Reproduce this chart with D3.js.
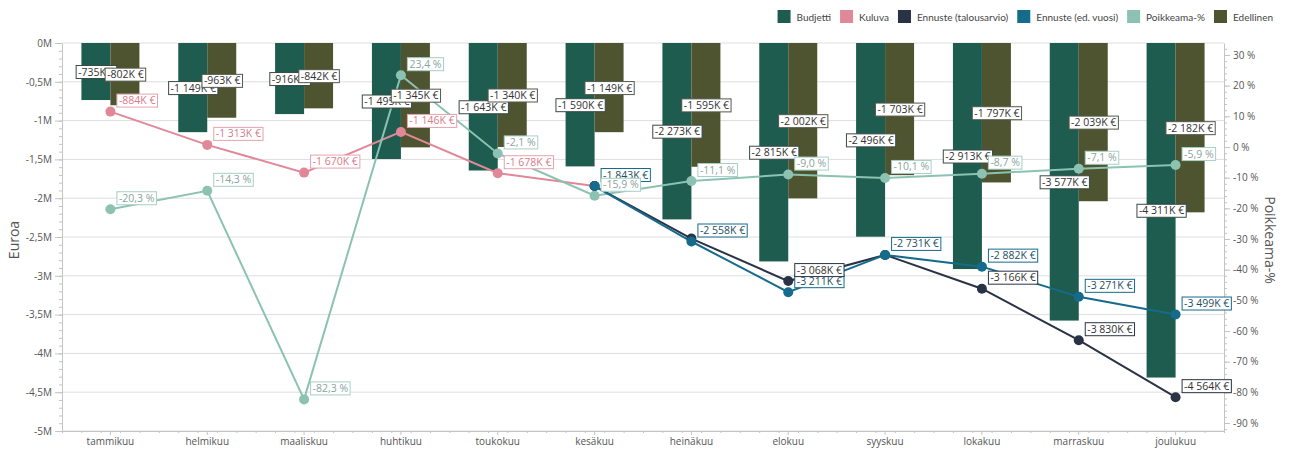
<!DOCTYPE html>
<html>
<head>
<meta charset="utf-8">
<script src="https://cdn.jsdelivr.net/npm/d3@7"></script>
<style>
    body { margin: 0; background: #fff; }
    svg { font-family: "Open Sans", sans-serif; }
</style>
</head>
<body>
<div id="chart"></div>
<script>
// months and series, values in thousands of euros
const months = ["tammikuu", "helmikuu", "maaliskuu", "huhtikuu", "toukokuu", "kesäkuu",
    "heinäkuu", "elokuu", "syyskuu", "lokakuu", "marraskuu", "joulukuu"];
const budjetti = [-735, -1149, -916, -1495, -1643, -1590, -2273, -2815, -2496, -2913, -3577, -4311];
const edellinen = [-802, -963, -842, -1345, -1340, -1149, -1595, -2002, -1703, -1797, -2039, -2182];
const kuluva = [-884, -1313, -1670, -1146, -1678, -1843, null, null, null, null, null, null];
const ennusteTa = [null, null, null, null, null, -1843, -2520, -3068, -2731, -3166, -3830, -4564];
const ennusteEd = [null, null, null, null, null, -1843, -2558, -3211, -2731, -2882, -3271, -3499];
const poikkeama = [-20.3, -14.3, -82.3, 23.4, -2.1, -15.9, -11.1, -9.0, -10.1, -8.7, -7.1, -5.9];
const leftTicks = [0, -0.5, -1, -1.5, -2, -2.5, -3, -3.5, -4, -4.5, -5];
const rightTicks = [30, 20, 10, 0, -10, -20, -30, -40, -50, -60, -70, -80, -90];

const colors = {
    budjetti: "#1d5c4f",
    kuluva: "#e08898",
    ennusteTa: "#2a3346",
    ennusteEd: "#156b8b",
    poikkeama: "#8cc2b2",
    edellinen: "#4f5430"
};

const legend = [
    {name: "Budjetti", color: colors.budjetti},
    {name: "Kuluva", color: colors.kuluva},
    {name: "Ennuste (talousarvio)", color: colors.ennusteTa},
    {name: "Ennuste (ed. vuosi)", color: colors.ennusteEd},
    {name: "Poikkeama-%", color: colors.poikkeama},
    {name: "Edellinen", color: colors.edellinen}
];

let width = 1290, height = 450;
let mLeft = 62, mRight = 1224, mTop = 43, mBottom = 431;

let svg = d3.select("#chart").append("svg")
    .attr("width", width)
    .attr("height", height);

let x = d3.scaleBand().domain(months).range([mLeft, mRight]);
let xs = d3.scaleBand().domain(["b", "e"]).range([0, x.bandwidth()])
    .paddingInner(0).paddingOuter(0.67);
let y = d3.scaleLinear().domain([-5000, 0]).range([mBottom, mTop]);
let yP = d3.scaleLinear().domain([-92.6, 33.9]).range([mBottom, mTop]);

let cx = m => x(m) + x.bandwidth() / 2;

// gridlines
svg.append("g")
    .selectAll("line")
    .data(leftTicks)
    .enter().append("line")
    .attr("x1", mLeft).attr("x2", mRight)
    .attr("y1", d => y(d * 1000)).attr("y2", d => y(d * 1000))
    .attr("stroke", "#dedede");

// left axis
let fmtM = d => d === 0 ? "0M" : String(d).replace(".", ",") + "M";
svg.append("g")
    .attr("transform", "translate(" + mLeft + ",0)")
    .call(d3.axisLeft(y).tickValues(leftTicks.map(d => d * 1000))
        .tickFormat(d => fmtM(d / 1000)).tickSize(7).tickSizeOuter(0));
svg.append("g")
    .attr("transform", "translate(" + mLeft + ",0)")
    .call(d3.axisLeft(y).tickValues(d3.range(-5000, 1, 100)).tickFormat("").tickSize(3).tickSizeOuter(0))
    .select(".domain").remove();

// right axis
svg.append("g")
    .attr("transform", "translate(" + mRight + ",0)")
    .call(d3.axisRight(yP).tickValues(rightTicks).tickFormat(d => d + " %").tickSize(6).tickSizeOuter(0));
svg.append("g")
    .attr("transform", "translate(" + mRight + ",0)")
    .call(d3.axisRight(yP).tickValues(d3.range(-92, 34, 2)).tickFormat("").tickSize(3).tickSizeOuter(0))
    .select(".domain").remove();

// bottom axis
svg.append("g")
    .attr("transform", "translate(0," + mBottom + ")")
    .call(d3.axisBottom(x).tickSize(4).tickSizeOuter(0));
let minorX = d3.scaleLinear().domain([0, 60]).range([mLeft, mRight]);
svg.append("g")
    .attr("transform", "translate(0," + mBottom + ")")
    .call(d3.axisBottom(minorX).tickValues(d3.range(0, 61)).tickFormat("").tickSize(2).tickSizeOuter(0))
    .select(".domain").remove();

svg.selectAll(".domain").attr("stroke", "#c4c4c4");
svg.selectAll(".tick line").attr("stroke", "#c4c4c4");
svg.selectAll(".tick text").attr("fill", "#555").style("font-size", "10px")
    .style("font-family", "\"Open Sans\", sans-serif");

// axis titles
svg.append("text")
    .attr("transform", "translate(19,240) rotate(-90)")
    .attr("text-anchor", "middle")
    .style("font-size", "14px")
    .attr("fill", "#555")
    .text("Euroa");
svg.append("text")
    .attr("transform", "translate(1265,240) rotate(90)")
    .attr("text-anchor", "middle")
    .style("font-size", "14px")
    .attr("fill", "#555")
    .text("Poikkeama-%");

// bars
let barData = [];
months.forEach((m, i) => {
    barData.push({m: m, k: "b", v: budjetti[i], c: colors.budjetti});
    barData.push({m: m, k: "e", v: edellinen[i], c: colors.edellinen});
});
svg.append("g")
    .selectAll("rect")
    .data(barData)
    .enter().append("rect")
    .attr("x", d => x(d.m) + xs(d.k))
    .attr("width", xs.bandwidth())
    .attr("y", y(0))
    .attr("height", d => y(d.v) - y(0))
    .attr("fill", d => d.c);

// lines
let series = [
    {vals: kuluva, color: colors.kuluva, sc: v => y(v), width: 2},
    {vals: poikkeama, color: colors.poikkeama, sc: v => yP(v), width: 2},
    {vals: ennusteTa, color: colors.ennusteTa, sc: v => y(v), width: 2},
    {vals: ennusteEd, color: colors.ennusteEd, sc: v => y(v), width: 2}
];
series.forEach(s => {
    let pts = months.map((m, i) => ({m: m, v: s.vals[i]})).filter(d => d.v !== null);
    let line = d3.line().x(d => cx(d.m)).y(d => s.sc(d.v));
    svg.append("path")
        .datum(pts)
        .attr("d", line)
        .attr("fill", "none")
        .attr("stroke", s.color)
        .attr("stroke-width", s.width);
    svg.append("g")
        .selectAll("circle")
        .data(pts)
        .enter().append("circle")
        .attr("cx", d => cx(d.m))
        .attr("cy", d => s.sc(d.v))
        .attr("r", 5)
        .attr("fill", s.color);
});

// data labels
let fmtK = v => {
    let n = Math.abs(Math.round(v));
    let s = n >= 1000 ? Math.floor(n / 1000) + " " + String(n % 1000).padStart(3, "0") : String(n);
    return (v < 0 ? "-" : "") + s + "K €";
};
let fmtP = v => String(v.toFixed(1)).replace(".", ",") + " %";

let labelLayer = svg.append("g");
let placed = [];

function addLabel(px, py, text, stroke, fill, mode) {
    let g = labelLayer.append("g");
    let t = g.append("text")
        .style("font-size", "10.5px")
        .attr("fill", fill)
        .text(text);
    let w = t.node().getComputedTextLength() + 4;
    let h = 13;
    let bx, by;
    if (mode === "center") {
        bx = px - w / 2;
        by = py - h / 2;
    } else {
        bx = px + 6;
        by = py - 5 - h;
    }
    if (mode !== "center") {
        let hit = placed.some(p => {
            let ox = Math.max(0, Math.min(bx + w, p.x + p.w) - Math.max(bx, p.x));
            let oy = Math.max(0, Math.min(by + h, p.y + p.h) - Math.max(by, p.y));
            return ox * oy > 0.4 * w * h;
        });
        if (hit) { g.remove(); return; }
        placed.push({x: bx, y: by, w: w, h: h});
    }
    g.insert("rect", "text")
        .attr("x", bx + 0.5).attr("y", by + 0.5)
        .attr("width", w).attr("height", h)
        .attr("fill", "#fff")
        .attr("stroke", stroke);
    t.attr("x", bx + 2.5).attr("y", by + 10.5);
}

months.forEach((m, i) => {
    addLabel(x(m) + xs("b") + xs.bandwidth() / 2, y(budjetti[i] / 2), fmtK(budjetti[i]), "#3a4a45", "#333", "center");
    addLabel(x(m) + xs("e") + xs.bandwidth() / 2, y(edellinen[i] / 2), fmtK(edellinen[i]), "#55584a", "#333", "center");
});
months.forEach((m, i) => {
    if (ennusteEd[i] !== null) addLabel(cx(m), y(ennusteEd[i]), fmtK(ennusteEd[i]), colors.ennusteEd, "#1d4f63", "point");
});
months.forEach((m, i) => {
    if (ennusteTa[i] !== null) addLabel(cx(m), y(ennusteTa[i]), fmtK(ennusteTa[i]), colors.ennusteTa, "#333", "point");
});
months.forEach((m, i) => {
    if (kuluva[i] !== null) addLabel(cx(m), y(kuluva[i]), fmtK(kuluva[i]), "#e6a3ae", "#d9798b", "point");
});
months.forEach((m, i) => {
    addLabel(cx(m), yP(poikkeama[i]), fmtP(poikkeama[i]), "#a7cfc3", "#8aa39d", "point");
});

// legend, right aligned
let lg = svg.append("g");
let lx = 0;
legend.forEach(d => {
    let item = lg.append("g").attr("transform", "translate(" + lx + ",0)");
    item.append("rect")
        .attr("width", 13).attr("height", 13)
        .attr("fill", d.color);
    let t = item.append("text")
        .attr("x", 19).attr("y", 10.5)
        .style("font-size", "10px")
        .style("font-family", "Lato, sans-serif")
        .attr("fill", "#444")
        .text(d.name);
    lx += 19 + t.node().getComputedTextLength() + 9;
});
lg.attr("transform", "translate(" + (1282 - lx) + ",10)");
</script>
</body>
</html>
